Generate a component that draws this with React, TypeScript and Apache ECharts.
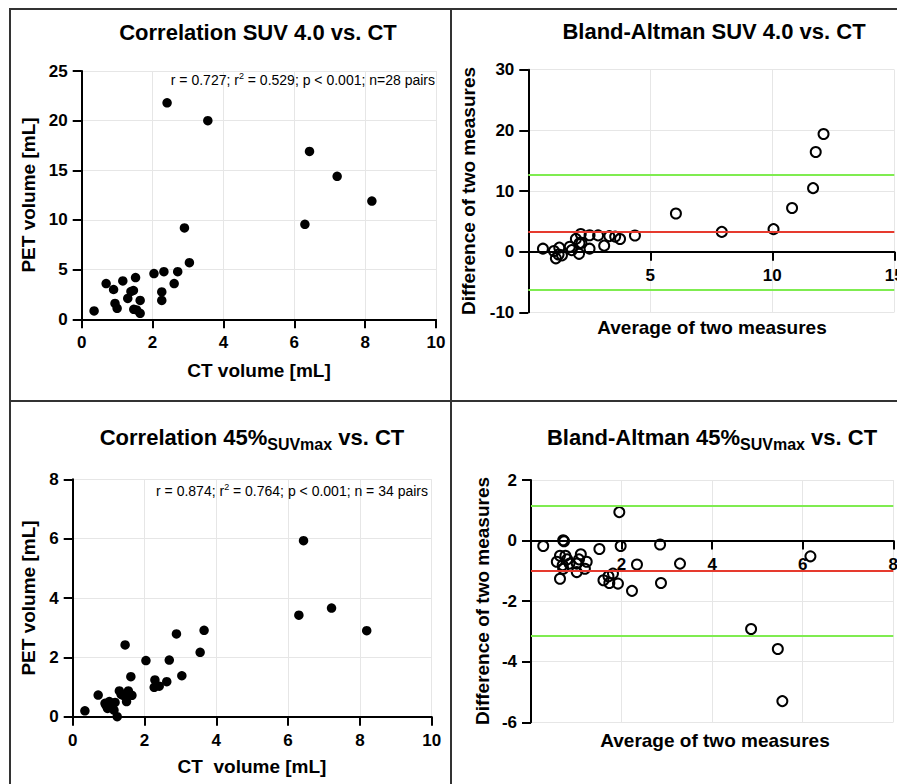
import React, { useEffect, useRef } from 'react';
import * as echarts from 'echarts';

const FONT = '"Liberation Sans", Arial, Helvetica, sans-serif';

// Panel 1: Correlation SUV 4.0 vs. CT
const suvCT = [0.35, 0.69, 0.90, 1.16, 1.52, 0.94, 1.00, 1.30, 1.39, 1.46, 1.47, 1.55, 1.65, 1.65, 2.04, 2.32, 2.26, 2.26, 2.71, 2.61, 3.04, 2.90, 2.41, 3.56, 6.30, 6.43, 7.21, 8.19];
const suvPET = [0.84, 3.6, 3.0, 3.86, 4.2, 1.6, 1.1, 2.1, 2.8, 2.9, 1.0, 0.94, 1.9, 0.6, 4.6, 4.8, 2.75, 1.9, 4.8, 3.6, 5.7, 9.2, 21.8, 20.0, 9.56, 16.9, 14.4, 11.9];

// Panel 2: Bland-Altman SUV 4.0 vs. CT
const baSuvAvg = [0.60, 2.15, 1.95, 2.51, 2.86, 1.27, 1.05, 1.70, 2.10, 2.18, 1.24, 1.38, 1.78, 1.13, 3.32, 3.56, 2.51, 2.08, 3.76, 3.11, 4.37, 6.05, 12.10, 11.78, 7.93, 11.67, 10.81, 10.05];
const baSuvDiff = [0.49, 2.91, 2.10, 2.70, 2.68, 0.66, 0.10, 0.80, 1.41, 1.44, -0.47, -0.61, 0.25, -1.10, 2.56, 2.48, 0.49, -0.36, 2.09, 0.99, 2.66, 6.30, 19.40, 16.44, 3.26, 10.47, 7.19, 3.71];
const baSuvLines = { mean: 3.3, upper: 12.75, lower: -6.25 };

// Panel 3: Correlation 45% SUVmax vs. CT
const p45CT = [0.34, 0.71, 1.46, 2.04, 2.89, 3.66, 3.55, 2.69, 3.04, 1.62, 2.29, 2.27, 2.41, 2.62, 1.30, 1.55, 1.65, 1.50, 1.41, 1.02, 0.93, 0.97, 1.10, 1.15, 1.05, 1.24, 6.30, 6.43, 7.21, 8.19, 1.18, 0.90, 1.52, 1.35];
const p45PET = [0.20, 0.73, 2.42, 1.89, 2.79, 2.91, 2.17, 1.91, 1.38, 1.35, 1.24, 0.99, 1.03, 1.18, 0.87, 0.87, 0.72, 0.51, 0.72, 0.51, 0.38, 0.28, 0.42, 0.22, 0.33, 0.0, 3.42, 5.93, 3.66, 2.90, 0.48, 0.45, 0.78, 0.75];

// Panel 4: Bland-Altman 45% SUVmax vs. CT
const ba45Avg = [0.27, 0.71, 0.73, 0.64, 0.76, 0.57, 0.70, 0.85, 0.64, 0.71, 1.01, 1.01, 1.10, 1.23, 1.19, 1.51, 1.60, 1.71, 1.73, 1.81, 1.92, 1.95, 1.98, 2.23, 2.34, 2.85, 2.87, 3.29, 4.86, 5.45, 5.55, 6.17, 0.80, 1.06];
const ba45Diff = [-0.18, 0.01, -0.02, -0.50, -0.50, -0.70, -0.81, -0.76, -1.26, -0.93, -0.76, -1.04, -0.45, -0.70, -0.93, -0.28, -1.31, -1.18, -1.40, -1.09, -1.42, 0.94, -0.18, -1.66, -0.79, -0.13, -1.40, -0.76, -2.92, -3.58, -5.30, -0.52, -0.62, -0.62];
const ba45Lines = { mean: -1.0, upper: 1.15, lower: -3.15 };

const titles = [
  { text: '{m|Correlation SUV 4.0 vs. CT}', x: 258, y: 32 },
  { text: '{m|Bland-Altman SUV 4.0 vs. CT}', x: 714, y: 31 },
  { text: '{m|Correlation 45%}{s|SUVmax}{m| vs. CT}', x: 252, y: 437 },
  { text: '{m|Bland-Altman 45%}{s|SUVmax}{m| vs. CT}', x: 712, y: 437 },
];
const xNames = [
  { text: 'CT volume [mL]', x: 259, y: 370 },
  { text: 'Average of two measures', x: 712, y: 327 },
  { text: 'CT  volume [mL]', x: 252, y: 766 },
  { text: 'Average of two measures', x: 715, y: 740 },
];
const yNames = [
  { text: 'PET volume [mL]', x: 28, y: 195 },
  { text: 'Difference of two measures', x: 468, y: 191 },
  { text: 'PET volume [mL]', x: 28, y: 598 },
  { text: 'Difference of two measures', x: 482, y: 601 },
];
const stats = [
  { text: '{t|r = 0.727; r}{p|2}{t| = 0.529; p < 0.001; n=28 pairs}', x: 435, y: 80 },
  { text: '{t|r = 0.874; r}{p|2}{t| = 0.764; p < 0.001; n = 34 pairs}', x: 428, y: 491 },
];

const RED = '#e63a2e';
const GREEN = '#7fec50';

const grids = [
  { left: 81.7, top: 71, width: 354.3, height: 248.3 },
  { left: 528.3, top: 69.7, width: 366, height: 242.6 },
  { left: 72.7, top: 479.3, width: 359, height: 237.4 },
  { left: 531, top: 480, width: 362.3, height: 242.3 },
];

function valueAxis(gridIndex: number, min: number, max: number, interval: number, isX: boolean, hideMin: boolean, offset: number) {
  return {
    type: 'value',
    gridIndex,
    min,
    max,
    interval,
    offset,
    axisLine: { show: true, onZero: false, lineStyle: { color: '#000', width: 2 } },
    axisTick: { show: true, length: 9, lineStyle: { color: '#000', width: 2 } },
    axisLabel: {
      color: '#000',
      fontSize: 17,
      fontWeight: 'bold',
      fontFamily: FONT,
      margin: isX ? 15 : 14,
      showMinLabel: !hideMin,
      showMaxLabel: true,
    },
    splitLine: { show: true, lineStyle: { color: '#e6e6e6', width: 1 } },
  };
}

// offset that moves a bottom x axis up to the y = 0 level of its grid
function zeroOffset(gridIndex: number, ymin: number, ymax: number) {
  return -grids[gridIndex].height * ((0 - ymin) / (ymax - ymin));
}

function baLines(l: { mean: number; upper: number; lower: number }) {
  return {
    silent: true,
    symbol: ['none', 'none'],
    label: { show: false },
    emphasis: { disabled: true },
    data: [
      { yAxis: l.upper, lineStyle: { color: GREEN, width: 2, type: 'solid' } },
      { yAxis: l.mean, lineStyle: { color: RED, width: 2, type: 'solid' } },
      { yAxis: l.lower, lineStyle: { color: GREEN, width: 2, type: 'solid' } },
    ],
  };
}

export default function App() {
  const ref = useRef<HTMLDivElement>(null);
  useEffect(() => {
    if (!ref.current) return;
    const chart = echarts.init(ref.current, null, { renderer: 'svg' });

    const graphic: any[] = [
      { type: 'rect', shape: { x: 10, y: 9, width: 900, height: 800 }, style: { fill: 'none', stroke: '#333', lineWidth: 2 } },
      { type: 'line', shape: { x1: 451, y1: 9, x2: 451, y2: 790 }, style: { stroke: '#333', lineWidth: 2 } },
      { type: 'line', shape: { x1: 10, y1: 401, x2: 900, y2: 401 }, style: { stroke: '#333', lineWidth: 2 } },
    ];
    titles.forEach((t) => {
      graphic.push({
        type: 'text',
        x: t.x,
        y: t.y,
        style: {
          text: t.text,
          align: 'center',
          verticalAlign: 'middle',
          fill: '#000',
          rich: {
            m: { fontSize: 22, fontWeight: 'bold', fontFamily: FONT, fill: '#000', lineHeight: 30, verticalAlign: 'middle' },
            s: { fontSize: 16, fontWeight: 'bold', fontFamily: FONT, fill: '#000', lineHeight: 16, verticalAlign: 'bottom' },
          },
        },
      });
    });
    xNames.forEach((t) => {
      graphic.push({
        type: 'text',
        x: t.x,
        y: t.y,
        style: { text: t.text, align: 'center', verticalAlign: 'middle', fill: '#000', fontSize: 19, fontWeight: 'bold', fontFamily: FONT },
      });
    });
    yNames.forEach((t) => {
      graphic.push({
        type: 'text',
        x: t.x,
        y: t.y,
        rotation: Math.PI / 2,
        style: { text: t.text, align: 'center', verticalAlign: 'middle', fill: '#000', fontSize: 19, fontWeight: 'bold', fontFamily: FONT },
      });
    });
    stats.forEach((t) => {
      graphic.push({
        type: 'text',
        x: t.x,
        y: t.y,
        z: 100,
        style: {
          text: t.text,
          align: 'right',
          verticalAlign: 'middle',
          fill: '#000',
          rich: {
            t: { fontSize: 14, fontFamily: FONT, fill: '#000', lineHeight: 18, verticalAlign: 'middle' },
            p: { fontSize: 9, fontFamily: FONT, fill: '#000', lineHeight: 9, verticalAlign: 'top' },
          },
        },
      });
    });

    const gridBase = { outerBoundsMode: 'none', containLabel: false, show: false };

    const filled = { color: '#000', opacity: 1 };
    const hollow = { color: 'rgba(255,255,255,0)', borderColor: '#000', borderWidth: 2, opacity: 1 };

    const option: any = {
      animation: false,
      backgroundColor: '#fff',
      textStyle: { fontFamily: FONT },
      grid: grids.map((g) => ({ ...gridBase, ...g })),
      xAxis: [
        valueAxis(0, 0, 10, 2, true, false, 0),
        valueAxis(1, 0, 15, 5, true, true, zeroOffset(1, -10, 30)),
        valueAxis(2, 0, 10, 2, true, false, 0),
        valueAxis(3, 0, 8, 2, true, true, zeroOffset(3, -6, 2)),
      ],
      yAxis: [
        valueAxis(0, 0, 25, 5, false, false, 0),
        valueAxis(1, -10, 30, 10, false, false, 0),
        valueAxis(2, 0, 8, 2, false, false, 0),
        valueAxis(3, -6, 2, 2, false, false, 0),
      ],
      series: [
        {
          type: 'scatter',
          xAxisIndex: 0,
          yAxisIndex: 0,
          symbolSize: 9.5,
          itemStyle: filled,
          emphasis: { disabled: true },
          data: suvCT.map((c, i) => [c, suvPET[i]]),
        },
        {
          type: 'scatter',
          xAxisIndex: 1,
          yAxisIndex: 1,
          symbolSize: 10,
          itemStyle: hollow,
          emphasis: { disabled: true },
          data: baSuvAvg.map((a, i) => [a, baSuvDiff[i]]),
          markLine: baLines(baSuvLines),
        },
        {
          type: 'scatter',
          xAxisIndex: 2,
          yAxisIndex: 2,
          symbolSize: 9.5,
          itemStyle: filled,
          emphasis: { disabled: true },
          data: p45CT.map((c, i) => [c, p45PET[i]]),
        },
        {
          type: 'scatter',
          xAxisIndex: 3,
          yAxisIndex: 3,
          symbolSize: 10,
          itemStyle: hollow,
          emphasis: { disabled: true },
          data: ba45Avg.map((a, i) => [a, ba45Diff[i]]),
          markLine: baLines(ba45Lines),
        },
      ],
      graphic,
    };
    chart.setOption(option);
    return () => chart.dispose();
  }, []);
  return (
    <div
      ref={ref}
      style={{ position: 'absolute', left: 0, top: 0, width: 897, height: 784, background: '#fff', overflow: 'hidden' }}
    />
  );
}
